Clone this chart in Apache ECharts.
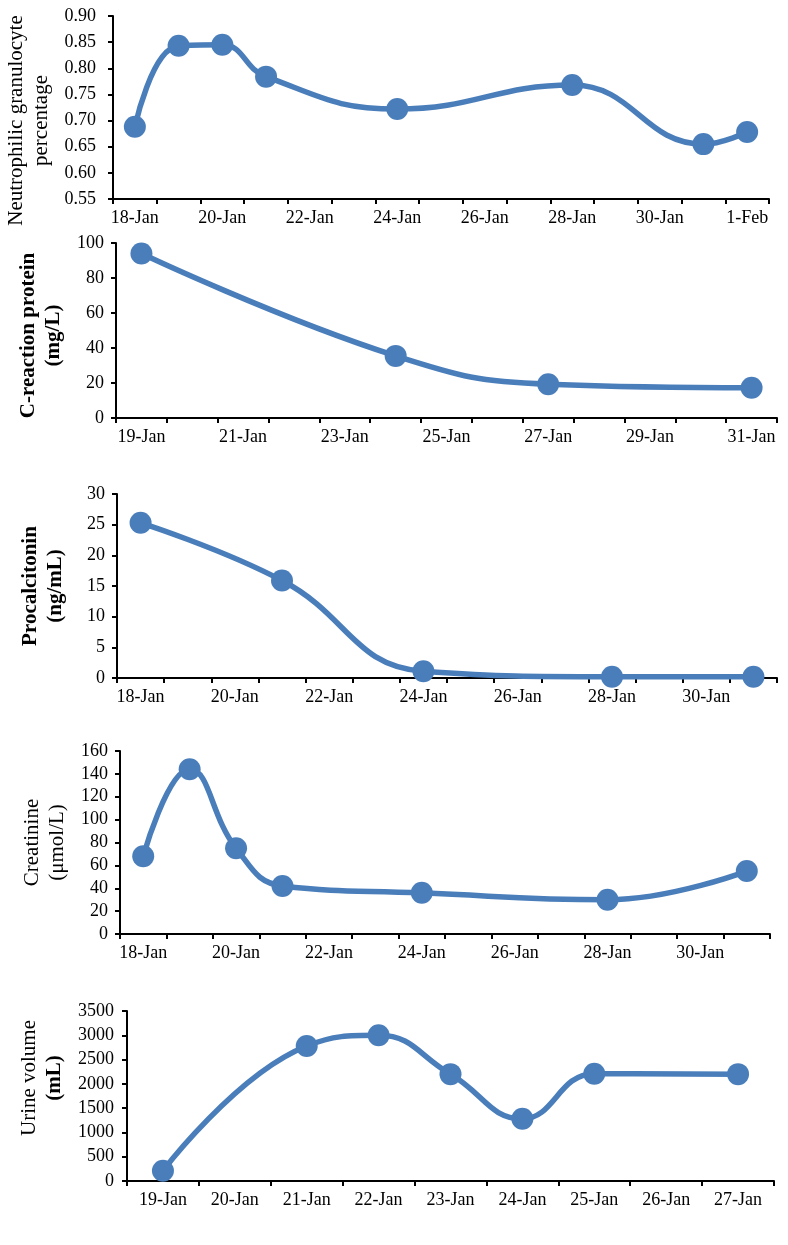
<!DOCTYPE html>
<html>
<head>
<meta charset="utf-8">
<script src="https://cdn.jsdelivr.net/npm/echarts@6.0.0/dist/echarts.min.js"></script>
<style>
    html, body { margin: 0; padding: 0; background: #fff; }
    #main { width: 788px; height: 1245px; }
</style>
</head>
<body>
<div id="main"></div>
<script>
    // dates of each panel (one category per day)
    var days1 = ['18-Jan', '19-Jan', '20-Jan', '21-Jan', '22-Jan', '23-Jan', '24-Jan', '25-Jan',
        '26-Jan', '27-Jan', '28-Jan', '29-Jan', '30-Jan', '31-Jan', '1-Feb'];
    var days2 = ['19-Jan', '20-Jan', '21-Jan', '22-Jan', '23-Jan', '24-Jan', '25-Jan', '26-Jan',
        '27-Jan', '28-Jan', '29-Jan', '30-Jan', '31-Jan'];
    var days3 = ['18-Jan', '19-Jan', '20-Jan', '21-Jan', '22-Jan', '23-Jan', '24-Jan', '25-Jan',
        '26-Jan', '27-Jan', '28-Jan', '29-Jan', '30-Jan', '31-Jan'];
    var days4 = days3;
    var days5 = ['19-Jan', '20-Jan', '21-Jan', '22-Jan', '23-Jan', '24-Jan', '25-Jan', '26-Jan', '27-Jan'];

    // measured values, null = no measurement that day
    var neutrophil = [0.688, 0.843, 0.845, 0.784, null, null, 0.722, null, null, null, 0.768, null, null, 0.655, 0.678];
    var crp = [94, null, null, null, null, 35.5, null, null, 19.3, null, null, null, 17.3];
    var pct = [25.3, null, null, 15.9, null, null, 1.1, null, null, null, 0.2, null, null, 0.2];
    var creatinine = [68, 144, 75, 42, null, null, 36, null, null, null, 30, null, null, 55];
    var urine = [210, null, 2780, 3000, 2200, 1280, 2210, null, 2200];

    var serif = '"Liberation Serif", "Times New Roman", serif';
    var blue = '#4a7ebb';

    // panel layout: [left, top, width, height]
    var boxes = [
        [113, 16, 656, 183],
        [116, 243, 661, 175],
        [117, 494, 660, 184],
        [120, 751, 650, 183],
        [127, 1011, 647, 170]
    ];

    // padding of the rotated titles moves them along the axis (right = down, left = up)
    var panels = [
        { days: days1, data: neutrophil, min: 0.55, max: 0.90, step: 0.05, dec: 2, every: 1, labelGap: 17,
          name: '{r|Neutrophilic granulocyte}\n{r|percentage}', nameGap: 57, pad: [0, 26, 0, 0] },
        { days: days2, data: crp, min: 0, max: 100, step: 20, dec: 0, every: 1, labelGap: 12,
          name: '{b|C-reaction protein}\n{b|(mg/L)}', nameGap: 49, pad: [0, 10, 0, 0] },
        { days: days3, data: pct, min: 0, max: 30, step: 5, dec: 0, every: 1, labelGap: 12,
          name: '{b|Procalcitonin}\n{b|(ng/mL)}', nameGap: 49, pad: 0 },
        { days: days4, data: creatinine, min: 0, max: 160, step: 20, dec: 0, every: 1, labelGap: 12,
          name: '{r|Creatinine}\n{r|(μmol/L)}', nameGap: 47, pad: 0 },
        { days: days5, data: urine, min: 0, max: 3500, step: 500, dec: 0, every: 0, labelGap: 13,
          name: '{r|Urine volume}\n{b|(mL)}', nameGap: 58, pad: [0, 0, 0, 36] }
    ];

    var grid = [], xAxis = [], yAxis = [], series = [];
    var axisLine = { show: true, lineStyle: { color: '#000', width: 2 } };

    panels.forEach(function (p, i) {
        var b = boxes[i];
        grid.push({ left: b[0], top: b[1], width: b[2], height: b[3], outerBoundsMode: 'none' });
        xAxis.push({
            type: 'category',
            gridIndex: i,
            data: p.days,
            boundaryGap: true,
            axisLine: axisLine,
            axisTick: { show: true, interval: 0, length: 5, lineStyle: { color: '#000', width: 2 } },
            axisLabel: {
                interval: p.every,
                margin: 10,
                color: '#000',
                fontFamily: serif,
                fontSize: 18
            },
            splitLine: { show: false }
        });
        yAxis.push({
            type: 'value',
            gridIndex: i,
            min: p.min,
            max: p.max,
            interval: p.step,
            axisLine: axisLine,
            axisTick: { show: true, length: 5, lineStyle: { color: '#000', width: 2 } },
            axisLabel: {
                margin: p.labelGap,
                color: '#000',
                fontFamily: serif,
                fontSize: 18,
                formatter: (function (dec) {
                    return function (v) { return v.toFixed(dec); };
                })(p.dec)
            },
            splitLine: { show: false },
            name: p.name,
            nameLocation: 'middle',
            nameRotate: 90,
            nameGap: p.nameGap,
            nameTextStyle: {
                color: '#000',
                fontFamily: serif,
                fontSize: 21,
                lineHeight: 25,
                padding: p.pad,
                rich: {
                    r: { fontFamily: serif, fontSize: 21, lineHeight: 25, fontWeight: 'normal', color: '#000' },
                    b: { fontFamily: serif, fontSize: 21, lineHeight: 25, fontWeight: 'bold', color: '#000' }
                }
            }
        });
        series.push({
            type: 'line',
            xAxisIndex: i,
            yAxisIndex: i,
            data: p.data,
            connectNulls: true,
            smooth: 0.45,
            symbol: 'circle',
            symbolSize: 22,
            itemStyle: { color: blue },
            lineStyle: { color: blue, width: 5.5 }
        });
    });

    var chart = echarts.init(document.getElementById('main'));
    chart.setOption({
        animation: false,
        backgroundColor: '#fff',
        grid: grid,
        xAxis: xAxis,
        yAxis: yAxis,
        series: series
    });
</script>
</body>
</html>
